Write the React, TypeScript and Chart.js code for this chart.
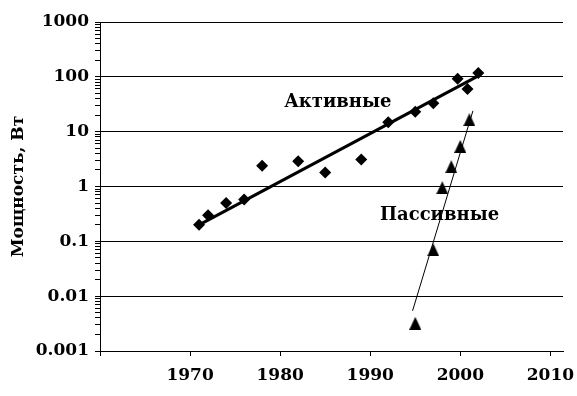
import React, { useEffect, useRef } from "react";
import { Chart, registerables } from "chart.js";

Chart.register(...registerables);

const activeYears = [1971, 1972, 1974, 1976, 1978, 1982, 1985, 1989, 1992, 1995, 1997, 1999.7, 2000.8, 2002];
const activePower = [0.2, 0.3, 0.5, 0.58, 2.4, 2.9, 1.8, 3.1, 14.8, 23, 33, 92, 60, 117];

const passiveYears = [1995, 1997, 1998, 1999, 2000, 2001];
const passivePower = [0.0032, 0.07, 0.95, 2.3, 5.4, 16.5];

const activeTrendYears = [1971, 2002];
const activeTrendPower = [0.2, 104];

const passiveTrendYears = [1994.7, 2001.4];
const passiveTrendPower = [0.0054, 24];

const xTicks = [1960, 1970, 1980, 1990, 2000, 2010];
const yExponents = [-3, -2, -1, 0, 1, 2, 3];
const yTickLabels = ["0.001", "0.01", "0.1", "1", "10", "100", "1000"];

const yAxisTitle = "Мощность, Вт";
const activeLabel = "Активные";
const passiveLabel = "Пассивные";

const FONT = '"DejaVu Serif", "Liberation Serif", serif';

function zip(xs: number[], ys: number[]) {
  return xs.map((x, i) => ({ x, y: ys[i] }));
}

function makeTriangle(): HTMLCanvasElement {
  const c = document.createElement("canvas");
  c.width = 12;
  c.height = 13;
  const g = c.getContext("2d")!;
  g.fillStyle = "#000";
  g.beginPath();
  g.moveTo(0, 13);
  g.lineTo(6, 0);
  g.lineTo(12, 13);
  g.closePath();
  g.fill();
  return c;
}

function isMajor(v: number) {
  const l = Math.log10(v);
  return Math.abs(l - Math.round(l)) < 1e-9;
}

export default function App() {
  const ref = useRef<HTMLCanvasElement | null>(null);

  useEffect(() => {
    if (!ref.current) return;
    const tri = makeTriangle();

    const labelPlugin = {
      id: "seriesLabels",
      afterDatasetsDraw(chart: any) {
        const { ctx, scales } = chart;
        const xs = scales.x;
        const ys = scales.y;
        ctx.save();
        ctx.fillStyle = "#000";
        ctx.font = `bold 18px ${FONT}`;
        ctx.textAlign = "center";
        ctx.textBaseline = "middle";
        ctx.fillText(activeLabel, xs.getPixelForValue(1986.4), ys.getPixelForValue(33.7));
        ctx.fillText(passiveLabel, xs.getPixelForValue(1997.7), ys.getPixelForValue(0.297));
        ctx.restore();
      },
    };

    const chart = new Chart(ref.current, {
      type: "scatter",
      data: {
        datasets: [
          {
            label: activeLabel,
            data: zip(activeYears, activePower),
            pointStyle: "rectRot",
            pointRadius: 6,
            borderWidth: 0,
            backgroundColor: "#000",
            borderColor: "#000",
            showLine: false,
          },
          {
            label: passiveLabel,
            data: zip(passiveYears, passivePower),
            pointStyle: tri as any,
            pointRadius: 6,
            backgroundColor: "#000",
            borderColor: "#000",
            showLine: false,
          },
          {
            label: "trendA",
            data: zip(activeTrendYears, activeTrendPower),
            showLine: true,
            borderColor: "#000",
            borderWidth: 3,
            pointRadius: 0,
          },
          {
            label: "trendP",
            data: zip(passiveTrendYears, passiveTrendPower),
            showLine: true,
            borderColor: "#000",
            borderWidth: 1,
            pointRadius: 0,
          },
        ],
      },
      options: {
        animation: false,
        responsive: false,
        maintainAspectRatio: false,
        layout: { padding: { top: 22, right: 14, left: 0, bottom: 0 } },
        plugins: {
          legend: { display: false },
          tooltip: { enabled: false },
          title: { display: false },
        },
        scales: {
          x: {
            type: "linear",
            min: 1960,
            max: 2011.4,
            afterBuildTicks: (scale: any) => {
              scale.ticks = xTicks.map((v) => ({ value: v }));
            },
            afterFit: (scale: any) => {
              scale.height = 45;
              scale.paddingLeft = 0;
              scale.paddingRight = 0;
            },
            ticks: {
              autoSkip: false,
              maxRotation: 0,
              padding: 9,
              color: "#000",
              font: { family: FONT, size: 17, weight: "bold" },
              callback: (v: any) => (v === 1960 ? "" : String(v)),
            },
            grid: {
              drawOnChartArea: false,
              drawTicks: true,
              tickLength: 5,
              tickColor: "#000",
              tickWidth: 1,
            },
            border: { display: true, color: "#000", width: 1 },
          },
          y: {
            type: "logarithmic",
            min: 0.001,
            max: 1000,
            afterBuildTicks: (scale: any) => {
              const t: any[] = [];
              for (const e of yExponents) {
                t.push({ value: Math.pow(10, e), major: true });
                if (e < 3) {
                  for (let m = 2; m <= 9; m++) t.push({ value: m * Math.pow(10, e) });
                }
              }
              t.sort((a, b) => a.value - b.value);
              scale.ticks = t;
            },
            afterFit: (scale: any) => {
              scale.width = 100;
              scale.paddingTop = 0;
              scale.paddingBottom = 0;
            },
            ticks: {
              autoSkip: false,
              padding: 6,
              color: "#000",
              font: { family: FONT, size: 17, weight: "bold" },
              callback: (v: any) => {
                const n = Number(v);
                if (!isMajor(n)) return "";
                const e = Math.round(Math.log10(n));
                return yTickLabels[yExponents.indexOf(e)];
              },
            },
            grid: {
              drawTicks: true,
              tickLength: 5,
              tickColor: "#000",
              tickWidth: 1,
              lineWidth: 1,
              color: (ctx: any) => (ctx.tick && isMajor(ctx.tick.value) ? "#000" : "rgba(0,0,0,0)"),
            },
            border: { display: true, color: "#000", width: 1 },
            title: {
              display: true,
              text: yAxisTitle,
              color: "#000",
              font: { family: FONT, size: 17, weight: "bold" },
              padding: { top: 8, bottom: 0 },
            },
          },
        },
      },
      plugins: [labelPlugin],
    } as any);

    return () => chart.destroy();
  }, []);

  return (
    <div style={{ position: "absolute", left: 0, top: 0, width: 577, height: 396, background: "#fff" }}>
      <canvas ref={ref} width={577} height={396} />
    </div>
  );
}
